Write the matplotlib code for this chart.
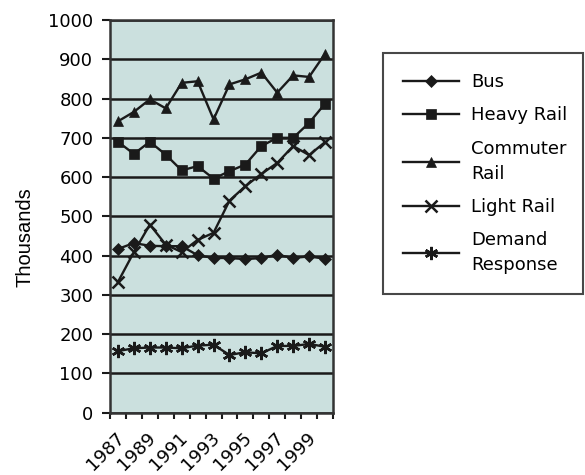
import matplotlib
matplotlib.use("Agg")
import matplotlib.pyplot as plt
import matplotlib.transforms as mtransforms
import numpy as np

years = list(range(1987, 2001))
bus = [417, 432, 425, 424, 424, 401, 394, 394, 391, 394, 402, 394, 398, 392]
heavy_rail = [690, 659, 690, 657, 617, 628, 596, 615, 632, 679, 700, 700, 738, 787]
commuter_rail = [742, 766, 798, 775, 840, 844, 747, 836, 849, 866, 815, 859, 855, 914]
light_rail = [333, 409, 479, 428, 409, 440, 458, 540, 577, 608, 636, 679, 656, 689]
demand_response = [157, 164, 166, 166, 164, 171, 173, 147, 154, 151, 170, 170, 175, 168]

series = [
    ("Bus", bus, "D", 6.5),
    ("Heavy Rail", heavy_rail, "s", 7),
    ("Commuter\nRail", commuter_rail, "^", 7.5),
    ("Light Rail", light_rail, "x", 8.5),
    ("Demand\nResponse", demand_response, (6, 2, 0), 9.5),
]

plt.rcParams['font.family'] = ['DejaVu Sans']

fig = plt.figure(figsize=(5.85, 4.75), dpi=100)
ax = fig.add_axes([110/585, 1 - 412.7/475, 223/585, (412.7 - 20)/475])
ax.set_facecolor("#cbe0de")

x = np.arange(len(years))
for label, vals, mk, ms in series:
    kw = dict(markeredgewidth=1.8) if mk == "x" or isinstance(mk, tuple) else dict(markeredgewidth=0.5)
    ax.plot(x, vals, color="#1a1a1a", lw=1.7, marker=mk, markersize=ms,
            markerfacecolor="#1a1a1a", markeredgecolor="#1a1a1a", label=label,
            clip_on=False, zorder=3, **kw)

ax.set_xlim(-0.5, len(years) - 0.5)
ax.set_ylim(0, 1000)
ax.set_yticks(range(0, 1001, 100))
ax.yaxis.grid(True, color="#1a1a1a", lw=1.8)
ax.set_axisbelow(True)

# category ticks between categories, labels every other category
ax.set_xticks(np.arange(-0.5, len(years)), minor=False)
ax.set_xticklabels([])
ax.set_xticks(x[::2], minor=True)
ax.set_xticklabels([str(y) for y in years[::2]], minor=True, rotation=45,
                   ha="right", va="top", rotation_mode="anchor", fontsize=13)
ax.tick_params(axis="x", which="minor", length=0, pad=11.5)
ax.tick_params(axis="x", which="major", length=4, width=1.5, color="#1a1a1a")
ax.tick_params(axis="y", length=6, width=1.5, color="#1a1a1a", labelsize=13, pad=6)
offset = mtransforms.ScaledTranslation(-3/100, 0, fig.dpi_scale_trans)
for t in ax.get_xticklabels(minor=True):
    t.set_transform(t.get_transform() + offset)

for s in ax.spines.values():
    s.set_color("#333333")
    s.set_linewidth(1.8)

ax.set_ylabel("Thousands", fontsize=14.5, family=["Liberation Sans", "DejaVu Sans"])
ax.yaxis.set_label_coords(35/585, 1 - 237.5/475, transform=fig.transFigure)

leg = fig.legend(loc="upper left", bbox_to_anchor=(383/585, 1 - 290/475, 200/585, 237/475),
                 mode="expand", frameon=True,
                 fancybox=False, edgecolor="#1a1a1a", fontsize=13, handlelength=3.1,
                 borderpad=1.1, labelspacing=0.85, handletextpad=0.7, borderaxespad=0)
leg.get_frame().set_linewidth(1.5)
for t in leg.get_texts():
    t.set_linespacing(1.5)

fig.savefig("out.png", dpi=100)
